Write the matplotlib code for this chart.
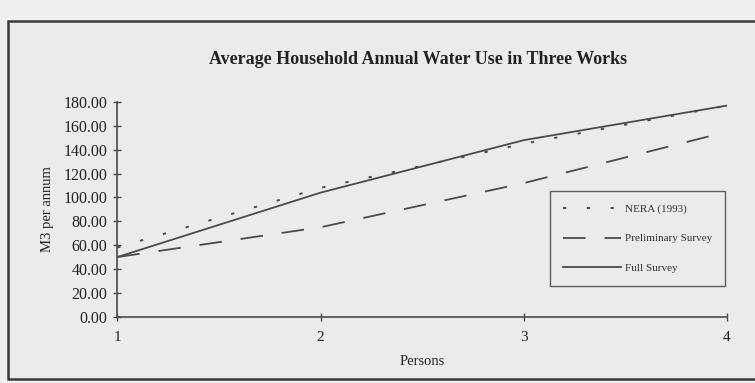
import matplotlib
matplotlib.use("Agg")
import matplotlib.pyplot as plt
from matplotlib.patches import Rectangle

persons = [1, 2, 3, 4]
nera = [58.0, 108.0, 145.0, 177.0]
preliminary = [50.0, 75.0, 112.0, 155.0]
full_survey = [50.0, 104.0, 148.0, 177.0]
y_ticks = [0, 20, 40, 60, 80, 100, 120, 140, 160, 180]
x_ticks = [1, 2, 3, 4]

W, H = 755, 383
fig = plt.figure(figsize=(W / 100, H / 100), dpi=100)
fig.patch.set_facecolor("#efefef")
plt.rcParams["font.family"] = ["Liberation Serif", "DejaVu Serif"]

# outer frame
frame = Rectangle((7.5 / W, 1 - 379 / H), (W + 20) / W, (379 - 20.7) / H,
                  transform=fig.transFigure, facecolor="#ebebeb",
                  edgecolor="#3a3a3a", linewidth=1.8, zorder=-5)
fig.patches.append(frame)

ax = fig.add_axes([117.3 / W, 1 - 316.7 / H, (727 - 117.3) / W, (316.7 - 102) / H])
ax.set_zorder(5)
ax.set_facecolor("none")
col = "#4a4a4a"
ax.plot(persons, nera, color=col, lw=1.4, linestyle=(0, (1.7, 10.5)), label="NERA (1993)")
ax.plot(persons, preliminary, color=col, lw=1.3, linestyle=(0, (12.5, 10.5)), label="Preliminary Survey")
ax.plot(persons, full_survey, color=col, lw=1.3, linestyle="-", label="Full Survey")

ax.set_xlim(1, 4)
ax.set_ylim(0, 180)
ax.set_xticks(x_ticks)
ax.set_xticklabels([str(v) for v in x_ticks], fontsize=11)
ax.set_yticks(y_ticks)
ax.set_yticklabels([f"{v:.2f}" for v in y_ticks], fontsize=11.5)
for s in ["top", "right"]:
    ax.spines[s].set_visible(False)
for s in ["left", "bottom"]:
    ax.spines[s].set_color(col)
    ax.spines[s].set_linewidth(1.2)
ax.tick_params(axis="both", direction="inout", length=6, width=1.0, color=col,
               labelcolor="#222222")
ax.tick_params(axis="x", pad=7)
ax.tick_params(axis="y", pad=4)
ax.set_xlabel("Persons", fontsize=10.5, color="#222222", labelpad=8)
ax.set_ylabel("M3 per annum", fontsize=10.5, color="#222222", labelpad=7)

fig.text(418 / W, 1 - 59 / H, "Average Household Annual Water Use in Three Works",
         ha="center", va="center", fontsize=13, fontweight="bold", color="#222222")

leg = ax.legend(loc="lower right", bbox_to_anchor=(0.997, (316.7 - 286) / (316.7 - 102)),
                frameon=True, fancybox=False, fontsize=8, handlelength=5.2,
                labelspacing=1.75, borderpad=1.2, handletextpad=0.3, borderaxespad=0.0)
leg.get_frame().set_edgecolor("#3a3a3a")
leg.get_frame().set_linewidth(1.0)
leg.get_frame().set_facecolor("#ebebeb")
for t in leg.get_texts():
    t.set_color("#333333")

fig.savefig("out.png", dpi=100, facecolor=fig.get_facecolor())
